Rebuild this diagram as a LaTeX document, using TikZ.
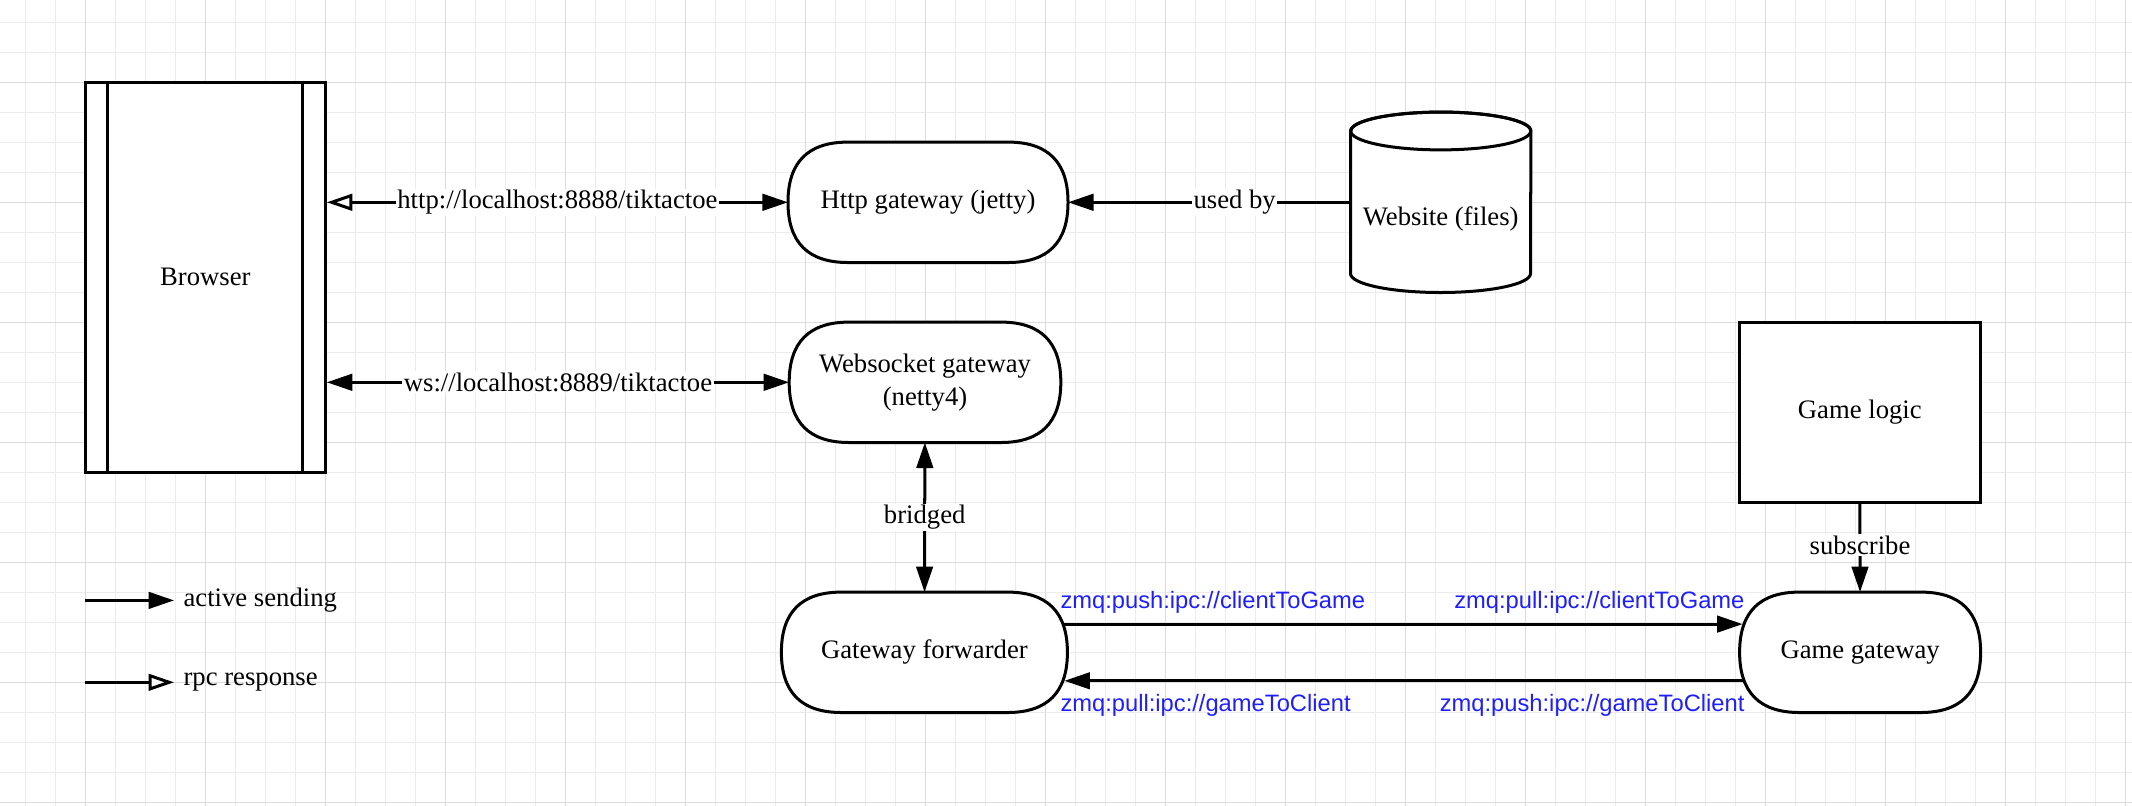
\documentclass[tikz,border=0pt]{standalone}
\usepackage{fontspec}
\setmainfont{Liberation Serif}
\newfontfamily\zmqfont{Liberation Sans}
\usetikzlibrary{arrows.meta,calc}
\definecolor{zmqblue}{RGB}{30,30,255}
\definecolor{gridminor}{RGB}{236,236,236}
\definecolor{gridmajor}{RGB}{220,220,220}
\def\strokew{2.85pt}
\def\arcx{2cm}
\def\arcc{0.667cm}
\pgfdeclarelayer{paper}
\pgfdeclarelayer{outline}
\pgfsetlayers{paper,outline,main}

% outline of a terminal node (ends made of quadratic-like curves)
\newcommand{\termoutline}[1]{%
	\filldraw[fill=white, line width=\strokew] ([xshift=\arcx]#1.north west) -- ([xshift=-\arcx]#1.north east)
	.. controls ([xshift=-\arcc]#1.north east) and ([yshift=-\arcc]#1.north east) .. (#1.east)
	.. controls ([yshift=\arcc]#1.south east) and ([xshift=-\arcc]#1.south east) .. ([xshift=-\arcx]#1.south east)
	-- ([xshift=\arcx]#1.south west)
	.. controls ([xshift=\arcc]#1.south west) and ([yshift=\arcc]#1.south west) .. (#1.west)
	.. controls ([yshift=-\arcc]#1.north west) and ([xshift=\arcc]#1.north west) .. cycle;}

\begin{document}
\begin{tikzpicture}[line width=\strokew, >={Triangle[length=0.85cm,width=0.55cm]},
	Hollow/.tip={Triangle[open,fill=white,length=0.85cm,width=0.55cm]}]
	\tikzstyle{every node}=[font=\fontsize{25.3pt}{31.3pt}\selectfont]
	\tikzstyle{link}=[line width=\strokew]
	\tikzstyle{process box}=[draw, fill=white, line width=\strokew, minimum width=8cm, minimum height=13cm]
	\tikzstyle{terminal}=[minimum height=4cm, inner sep=0pt, align=center]
	\tikzstyle{logic box}=[draw, fill=white, line width=\strokew, minimum width=8.03cm, minimum height=6cm]
	\tikzstyle{cylinder box}=[minimum width=6cm, minimum height=6cm, text height=1.7cm, text depth=0.18cm]
	\tikzstyle{edge text}=[fill=white, inner sep=1.5pt]
	\tikzstyle{zmq}=[font=\zmqfont\fontsize{22.5pt}{27pt}\selectfont, text=zmqblue, inner sep=0pt]
	\tikzstyle{key text}=[anchor=west, inner xsep=0.31cm]
	
	\useasboundingbox (-0.843,0.743) rectangle (70.223,-26.123);
	
	% Draw the paper grid
	\begin{pgfonlayer}{paper}
	\fill[white] (-0.843,0.743) rectangle (70.223,-26.123);
	\draw[gridminor, line width=0.8pt] (-0.843,0.743) grid (70.223,-26.123);
	\draw[gridmajor, line width=0.8pt, shift={(2,-2)}, step=4] (-2.843,2.743) grid (68.223,-24.123);
	\end{pgfonlayer}
	
	% Draw the components
	\node[process box] (browser) at (6,-8.5) {Browser};
	\node[terminal, minimum width=9.32cm] (http) at (30.09,-6) {Http gateway (jetty)};
	\node[terminal, minimum width=9.04cm] (ws) at (29.99,-12) {Websocket gateway\\(netty4)};
	\node[terminal, minimum width=9.52cm] (fwd) at (29.97,-21) {Gateway forwarder};
	\node[cylinder box] (website) at (47.18,-6) {Website (files)};
	\node[logic box] (logic) at (61.15,-13) {Game logic};
	\node[terminal, minimum width=8.02cm] (game) at (61.16,-21) {Game gateway};
	
	\draw[link] ([xshift=0.8cm]browser.north west) -- ([xshift=0.8cm]browser.south west);
	\draw[link] ([xshift=-0.8cm]browser.north east) -- ([xshift=-0.8cm]browser.south east);
	
	\begin{pgfonlayer}{outline}
	\foreach \n in {http,ws,fwd,game}
	{\termoutline{\n}}
	\filldraw[fill=white, link] ([yshift=-0.63cm]website.north west) -- ([yshift=0.63cm]website.south west)
	arc[start angle=180, end angle=360, x radius=3cm, y radius=0.63cm]
	-- ([yshift=-0.63cm]website.north east)
	arc[start angle=0, end angle=180, x radius=3cm, y radius=0.63cm] -- cycle;
	\draw[link] ([yshift=-0.63cm]website.north) ellipse [x radius=3cm, y radius=0.63cm];
	\end{pgfonlayer}
	
	% Connect the browser with the gateways
	\draw[link, Hollow->] (browser.east |- http) -- node[edge text] {http://localhost:8888/tiktactoe} (http);
	\draw[link, <->] (browser.east |- ws) -- node[edge text] {ws://localhost:8889/tiktactoe} (ws);
	\draw[link, ->] (website.west) -- node[edge text, pos=0.41] {used by} (http);
	\draw[link, <->] (ws) -- node[edge text] {bridged} (fwd);
	\draw[link, ->] (logic) -- node[edge text, yshift=0.1cm] {subscribe} (game);
	
	% zmq channels between forwarder and game gateway
	\draw[link, ->] ([xshift=-0.1cm,yshift=0.94cm]fwd.east) -- ([xshift=0.1cm,yshift=0.94cm]game.west)
	node[zmq, at start, anchor=west, xshift=-0.18cm, yshift=0.73cm] {zmq:push:ipc://clientToGame}
	node[zmq, at end, anchor=east, xshift=0.11cm, yshift=0.73cm] {zmq:pull:ipc://clientToGame};
	\draw[link, ->] ([xshift=0.1cm,yshift=-0.95cm]game.west) -- ([xshift=-0.1cm,yshift=-0.95cm]fwd.east)
	node[zmq, at start, anchor=east, xshift=0.11cm, yshift=-0.81cm] {zmq:push:ipc://gameToClient}
	node[zmq, at end, anchor=west, xshift=-0.18cm, yshift=-0.81cm] {zmq:pull:ipc://gameToClient};
	
	% Legend
	\coordinate (sendtail) at (2,-19.27);
	\node[key text] (sendkey) at (4.96,-19.27) {active sending};
	\draw[link, ->] (sendtail) -- (sendkey.west);
	\coordinate (rpctail) at (2,-22);
	\node[key text] (rpckey) at (4.96,-22) {rpc response};
	\draw[link, -Hollow] (rpctail) -- (rpckey.west);
	
\end{tikzpicture}
\end{document}
